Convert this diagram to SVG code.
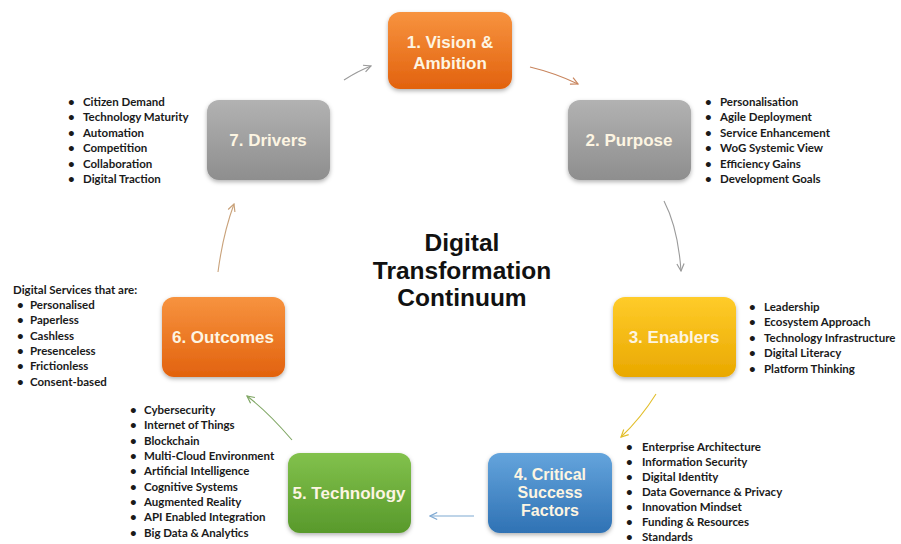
<svg xmlns="http://www.w3.org/2000/svg" width="901" height="544" viewBox="0 0 901 544">
<defs>
<linearGradient id="gOrange" x1="0" y1="0" x2="0" y2="1"><stop offset="0" stop-color="#F7933F"/><stop offset="1" stop-color="#E2620E"/></linearGradient>
<linearGradient id="gGray" x1="0" y1="0" x2="0" y2="1"><stop offset="0" stop-color="#B2B2B2"/><stop offset="1" stop-color="#8E8E8E"/></linearGradient>
<linearGradient id="gYellow" x1="0" y1="0" x2="0" y2="1"><stop offset="0" stop-color="#FFCC2A"/><stop offset="1" stop-color="#E9A800"/></linearGradient>
<linearGradient id="gBlue" x1="0" y1="0" x2="0" y2="1"><stop offset="0" stop-color="#64A4DC"/><stop offset="1" stop-color="#2F72B4"/></linearGradient>
<linearGradient id="gGreen" x1="0" y1="0" x2="0" y2="1"><stop offset="0" stop-color="#82C14C"/><stop offset="1" stop-color="#58992B"/></linearGradient>
<filter id="sh" x="-10%" y="-10%" width="120%" height="130%"><feDropShadow dx="0" dy="2" stdDeviation="2" flood-color="#000" flood-opacity="0.3"/></filter>
<marker id="mOr" viewBox="0 0 10 10" refX="9" refY="5" markerWidth="9" markerHeight="9" markerUnits="userSpaceOnUse" orient="auto"><path d="M1,1 L9,5 L1,9" fill="none" stroke="#C8845C" stroke-width="1.3"/></marker>
<marker id="mGr" viewBox="0 0 10 10" refX="9" refY="5" markerWidth="9" markerHeight="9" markerUnits="userSpaceOnUse" orient="auto"><path d="M1,1 L9,5 L1,9" fill="none" stroke="#9A9A9A" stroke-width="1.3"/></marker>
<marker id="mYe" viewBox="0 0 10 10" refX="9" refY="5" markerWidth="9" markerHeight="9" markerUnits="userSpaceOnUse" orient="auto"><path d="M1,1 L9,5 L1,9" fill="none" stroke="#E2BE2A" stroke-width="1.3"/></marker>
<marker id="mBl" viewBox="0 0 10 10" refX="9" refY="5" markerWidth="9" markerHeight="9" markerUnits="userSpaceOnUse" orient="auto"><path d="M1,1 L9,5 L1,9" fill="none" stroke="#7FA9D2" stroke-width="1.3"/></marker>
<marker id="mGn" viewBox="0 0 10 10" refX="9" refY="5" markerWidth="9" markerHeight="9" markerUnits="userSpaceOnUse" orient="auto"><path d="M1,1 L9,5 L1,9" fill="none" stroke="#7FA663" stroke-width="1.3"/></marker>
<marker id="mTan" viewBox="0 0 10 10" refX="9" refY="5" markerWidth="9" markerHeight="9" markerUnits="userSpaceOnUse" orient="auto"><path d="M1,1 L9,5 L1,9" fill="none" stroke="#C9A27A" stroke-width="1.3"/></marker>
</defs>
<style>
.box{filter:url(#sh);}
.lbl{font-family:"Liberation Sans",Arial,sans-serif;font-weight:bold;font-size:17px;fill:#FDF5E2;text-anchor:middle;}
.lbl4{font-size:16px;}
.lst{font-family:Lato,"Open Sans",sans-serif;font-weight:bold;font-size:11.5px;fill:#1a1a1a;}
.title{font-family:"Liberation Sans",Arial,sans-serif;font-weight:bold;font-size:24.5px;fill:#111;text-anchor:middle;}
.c{fill:none;stroke-width:1.1;}
</style>
<rect width="901" height="544" fill="#fff"/>

<g id="title">
<text class="title" x="462" y="251">Digital</text>
<text class="title" x="462" y="279">Transformation</text>
<text class="title" x="462" y="306">Continuum</text>
</g>

<g id="connectors">
<path class="c" d="M530,67 Q555,73 578,84" stroke="#C8845C" marker-end="url(#mOr)"/>
<path class="c" d="M664,201 Q678,228 681,271" stroke="#9A9A9A" marker-end="url(#mGr)"/>
<path class="c" d="M656,394 Q641,418 621,437" stroke="#E2BE2A" marker-end="url(#mYe)"/>
<path class="c" d="M474,516 L430,516" stroke="#7FA9D2" marker-end="url(#mBl)"/>
<path class="c" d="M292,440 Q268,412 247,396" stroke="#7FA663" marker-end="url(#mGn)"/>
<path class="c" d="M218,272 Q223,234 234,204" stroke="#C9A27A" marker-end="url(#mTan)"/>
<path class="c" d="M344,80 Q358,71 371,66" stroke="#9A9A9A" marker-end="url(#mGr)"/>
</g>

<g id="node1">
<rect class="box" x="388" y="12" width="124" height="77" rx="12" fill="url(#gOrange)"/>
<text class="lbl" x="450" y="48">1. Vision &amp;</text>
<text class="lbl" x="450" y="69">Ambition</text>
</g>

<g id="node2">
<rect class="box" x="568" y="100" width="123" height="80" rx="12" fill="url(#gGray)"/>
<text class="lbl" x="629" y="146">2. Purpose</text>
<g class="lst">
<text x="705" y="106">•</text><text x="720" y="106">Personalisation</text>
<text x="705" y="121">•</text><text x="720" y="121">Agile Deployment</text>
<text x="705" y="137">•</text><text x="720" y="137">Service Enhancement</text>
<text x="705" y="152">•</text><text x="720" y="152">WoG Systemic View</text>
<text x="705" y="168">•</text><text x="720" y="168">Efficiency Gains</text>
<text x="705" y="183">•</text><text x="720" y="183">Development Goals</text>
</g>
</g>

<g id="node3">
<rect class="box" x="613" y="297" width="123" height="80" rx="12" fill="url(#gYellow)"/>
<text class="lbl" x="674" y="343">3. Enablers</text>
<g class="lst">
<text x="749" y="311">•</text><text x="764" y="311">Leadership</text>
<text x="749" y="326">•</text><text x="764" y="326">Ecosystem Approach</text>
<text x="749" y="342">•</text><text x="764" y="342">Technology Infrastructure</text>
<text x="749" y="357">•</text><text x="764" y="357">Digital Literacy</text>
<text x="749" y="373">•</text><text x="764" y="373">Platform Thinking</text>
</g>
</g>

<g id="node4">
<rect class="box" x="488" y="453" width="124" height="80" rx="12" fill="url(#gBlue)"/>
<text class="lbl lbl4" x="550" y="480">4. Critical</text>
<text class="lbl lbl4" x="550" y="498">Success</text>
<text class="lbl lbl4" x="550" y="516">Factors</text>
<g class="lst">
<text x="626" y="451">•</text><text x="642" y="451">Enterprise Architecture</text>
<text x="626" y="466">•</text><text x="642" y="466">Information Security</text>
<text x="626" y="481">•</text><text x="642" y="481">Digital Identity</text>
<text x="626" y="496">•</text><text x="642" y="496">Data Governance &amp; Privacy</text>
<text x="626" y="511">•</text><text x="642" y="511">Innovation Mindset</text>
<text x="626" y="526">•</text><text x="642" y="526">Funding &amp; Resources</text>
<text x="626" y="541">•</text><text x="642" y="541">Standards</text>
</g>
</g>

<g id="node5">
<rect class="box" x="288" y="453" width="123" height="80" rx="12" fill="url(#gGreen)"/>
<text class="lbl" x="349" y="499">5. Technology</text>
<g class="lst">
<text x="130" y="414">•</text><text x="144" y="414">Cybersecurity</text>
<text x="130" y="429">•</text><text x="144" y="429">Internet of Things</text>
<text x="130" y="445">•</text><text x="144" y="445">Blockchain</text>
<text x="130" y="460">•</text><text x="144" y="460">Multi-Cloud Environment</text>
<text x="130" y="475">•</text><text x="144" y="475">Artificial Intelligence</text>
<text x="130" y="491">•</text><text x="144" y="491">Cognitive Systems</text>
<text x="130" y="506">•</text><text x="144" y="506">Augmented Reality</text>
<text x="130" y="521">•</text><text x="144" y="521">API Enabled Integration</text>
<text x="130" y="537">•</text><text x="144" y="537">Big Data &amp; Analytics</text>
</g>
</g>

<g id="node6">
<rect class="box" x="162" y="297" width="123" height="80" rx="12" fill="url(#gOrange)"/>
<text class="lbl" x="223" y="343">6. Outcomes</text>
<g class="lst">
<text x="13" y="294">Digital Services that are:</text>
<text x="17" y="309">•</text><text x="30" y="309">Personalised</text>
<text x="17" y="324">•</text><text x="30" y="324">Paperless</text>
<text x="17" y="340">•</text><text x="30" y="340">Cashless</text>
<text x="17" y="355">•</text><text x="30" y="355">Presenceless</text>
<text x="17" y="370">•</text><text x="30" y="370">Frictionless</text>
<text x="17" y="386">•</text><text x="30" y="386">Consent-based</text>
</g>
</g>

<g id="node7">
<rect class="box" x="207" y="100" width="123" height="80" rx="12" fill="url(#gGray)"/>
<text class="lbl" x="268" y="146">7. Drivers</text>
<g class="lst">
<text x="68" y="106">•</text><text x="83" y="106">Citizen Demand</text>
<text x="68" y="121">•</text><text x="83" y="121">Technology Maturity</text>
<text x="68" y="137">•</text><text x="83" y="137">Automation</text>
<text x="68" y="152">•</text><text x="83" y="152">Competition</text>
<text x="68" y="168">•</text><text x="83" y="168">Collaboration</text>
<text x="68" y="183">•</text><text x="83" y="183">Digital Traction</text>
</g>
</g>
</svg>
